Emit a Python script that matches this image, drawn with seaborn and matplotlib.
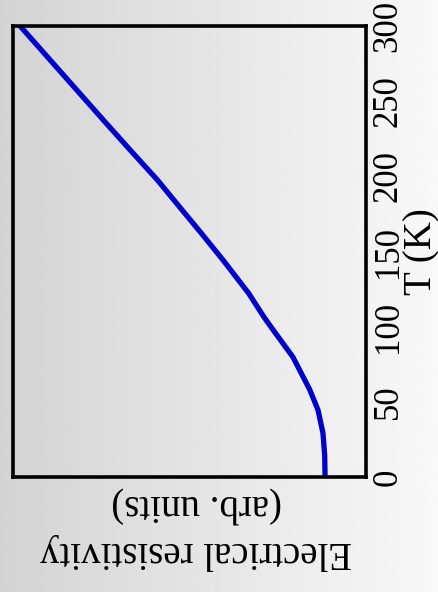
import numpy as np
import pandas as pd
import matplotlib
matplotlib.use("Agg")
import matplotlib.pyplot as plt
import seaborn as sns

# Data (temperature in K, resistivity in arb. units)
temperature = [0, 14.6, 29.3, 44.6, 57.9, 79.8, 97.8, 106.4, 122.4, 144.3,
               162.3, 177.6, 197.6, 217.5, 236.1, 300]
resistivity = [0.116, 0.117, 0.122, 0.136, 0.159, 0.207, 0.263, 0.289, 0.333,
               0.405, 0.467, 0.521, 0.591, 0.668, 0.739, 0.980]
t_ticks = [0, 50, 100, 150, 200, 250, 300]
t_label = "T (K)"
rho_label = "Electrical resistivity\n(arb. units)"

df = pd.DataFrame({"T": temperature, "rho": resistivity})

sns.set_style("white")
plt.rcParams["font.family"] = ["Liberation Serif", "DejaVu Serif"]

fig = plt.figure(figsize=(4.39, 5.92), dpi=100)

# gradient background
bg = fig.add_axes([0, 0, 1, 1], zorder=-10)
grad = np.linspace(0.83, 0.975, 256)[None, :]
grad = np.repeat(grad, 2, axis=0)
bg.imshow(grad, cmap="gray", vmin=0, vmax=1, aspect="auto",
          extent=[0, 1, 0, 1], interpolation="bicubic")
bg.set_axis_off()

ax = fig.add_axes([13 / 439, 1 - 477 / 592, 353 / 439, 451 / 592])
ax.set_facecolor("none")

sns.lineplot(data=df, x="rho", y="T", sort=False, estimator=None,
             color="#0000cc", linewidth=3.8, ax=ax)

ax.set_xlim(1.0, 0.0)
ax.set_ylim(0, 300)
ax.set_xticks([])
ax.yaxis.tick_right()
ax.yaxis.set_label_position("right")
ax.set_yticks(t_ticks)
ax.set_yticklabels([str(t) for t in t_ticks], rotation=90, va="center",
                   fontsize=25, color="black")
ax.tick_params(axis="y", length=0, pad=4, labelcolor="black")

ax.set_ylabel(t_label, fontsize=28, rotation=90, color="black")
ax.yaxis.set_label_coords((403 - 13) / 353, 0.5)
ax.set_xlabel(rho_label, fontsize=28, rotation=180, linespacing=1.35,
              color="black")
ax.xaxis.set_label_coords(0.52, -0.02)

for s in ax.spines.values():
    s.set_color("black")
    s.set_linewidth(2.6)

fig.savefig("out.png", dpi=100)
